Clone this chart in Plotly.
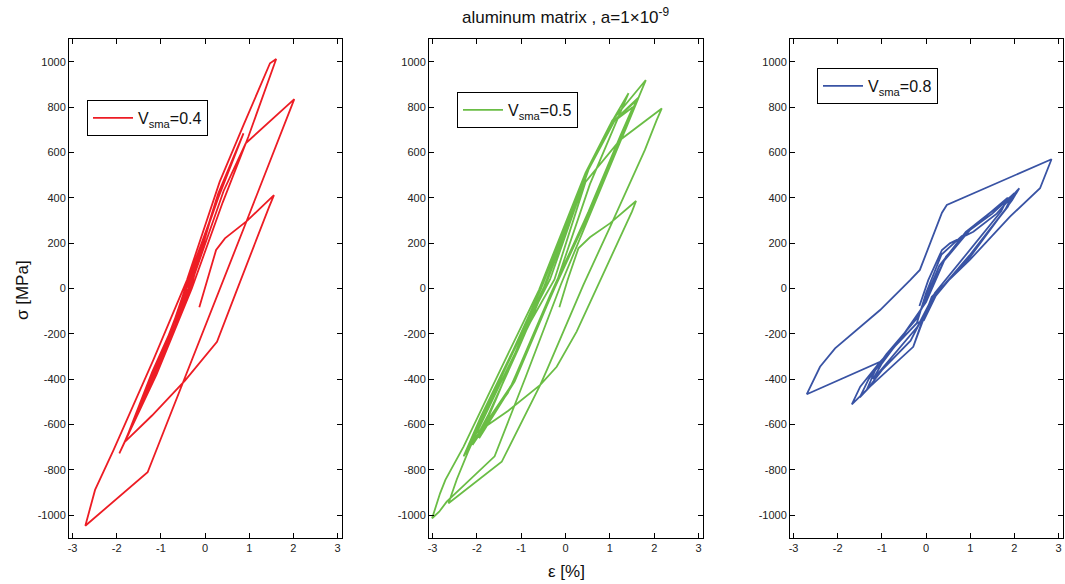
import plotly.graph_objects as go

# Stress-strain histories (strain in %, stress in MPa) for three SMA volume fractions

strain_04 = [
    -0.13, 0.05, 0.25, 0.45, 0.95, 1.56,
    1.45, 0.72, 0.27, -0.45, -1.20, -1.81,
    -1.20, -0.35, 0.42, 0.92, 2.02,
    0.95, -0.40, -1.30, -2.71,
    -2.49, -2.07, -1.77, -1.17, -0.41, 0.33, 0.87, 1.47, 1.61,
    0.98, 0.40, -0.30, -1.10, -1.94,
    -1.50, -0.90, -0.45, 0.35, 0.87,
    0.30, -0.38, -1.20, -1.85,
    -1.30, -0.46, 0.30, 0.80,
    0.25, -0.33, -1.10, -1.75,
]
stress_04 = [
    -83, 40, 170, 221, 298, 412,
    360, -7, -235, -405, -560, -675,
    -370, 0, 430, 640, 835,
    302, -370, -810, -1046,
    -888, -712, -580, -315, 37, 470, 720, 993, 1012,
    669, 380, 0, -380, -727,
    -540, -260, 0, 430, 684,
    420, 0, -390, -690,
    -450, -20, 400, 650,
    390, 0, -360, -650,
]

strain_05 = [
    -0.14, 0.05, 0.29, 0.55, 1.00, 1.59,
    1.50, 0.85, 0.25, -0.20, -0.57, -1.30, -2.00,
    -1.50, -0.80, -0.25, 0.45, 1.23, 2.17,
    2.05, 1.79, 1.00, 0.40, -0.42, -0.57, -1.44, -2.64,
    -2.45, -2.20, -1.40, -0.50, 0.50, 1.05, 1.81,
    1.60, 0.80, -0.10, -0.90, -1.60, -2.68, -2.85, -3.01,
    -2.83, -2.71, -2.30, -1.40, -0.60, 0.45, 1.00, 1.42,
    1.20, 0.55, -0.25, -1.20, -2.30,
    -1.90, -1.20, -0.55, 0.45, 1.05, 1.64,
    1.35, 0.60, -0.30, -1.30, -2.20,
    -1.70, -0.90, -0.40, 0.50, 1.10, 1.60,
    1.30, 0.50, -0.35, -1.25, -2.10,
    -1.75, -1.05, -0.48, 0.48, 1.08, 1.52,
    1.25, 0.52, -0.28, -1.15, -1.95,
    -1.55, -0.85, -0.35, 0.52, 1.12, 1.66,
]
stress_05 = [
    -83, 40, 177, 226, 287, 386,
    340, 67, -190, -345, -425, -540, -635,
    -430, -150, 40, 470, 655, 794,
    740, 611, 270, 15, -359, -425, -764, -947,
    -840, -720, -370, 0, 520, 740, 919,
    820, 440, 20, -390, -740, -940, -984, -1013,
    -903, -844, -697, -330, -7, 510, 720, 861,
    760, 460, 0, -420, -740,
    -560, -280, 0, 500, 730, 838,
    700, 360, -20, -460, -705,
    -490, -160, 40, 520, 740, 830,
    690, 330, -30, -440, -690,
    -560, -260, 0, 510, 735, 800,
    680, 340, -10, -410, -660,
    -480, -150, 40, 525, 745, 845,
]

strain_08 = [
    -0.15, 0.05, 0.36, 0.54, 1.07, 1.60, 2.11,
    1.95, 1.00, 0.15, -0.10, -0.29, -1.27, -1.68,
    -1.49, -1.04, -0.21, 0.00, 0.35, 0.80, 1.50, 2.00,
    1.85, 1.00, 0.25, -0.05, -0.21, -1.04, -2.70,
    -2.40, -2.06, -1.04, -0.36, -0.14, 0.36, 0.47, 2.84,
    2.58, 1.90, 0.99, 0.13, -0.29, -1.27, -1.50,
    -1.30, -0.90, -0.20, 0.30, 0.90, 1.95,
    1.80, 1.00, 0.10, -0.35, -1.00, -1.35,
    -1.15, -0.60, -0.10, 0.40, 1.00, 1.85,
    1.70, 0.95, 0.20, -0.20, -0.80, -1.20,
    -1.00, -0.50, 0.00, 0.45, 1.10, 1.75,
]
stress_08 = [
    -77, 37, 170, 199, 250, 330, 442,
    390, 140, -40, -150, -257, -433, -511,
    -433, -323, -153, -20, 150, 230, 330, 420,
    360, 150, -20, -140, -153, -323, -466,
    -345, -264, -95, 37, 82, 334, 368, 570,
    442, 317, 126, -36, -257, -433, -480,
    -400, -290, -130, 100, 250, 410,
    350, 150, -60, -230, -360, -450,
    -360, -230, -90, 120, 260, 400,
    340, 160, -20, -170, -310, -400,
    -330, -200, -60, 140, 280, 380,
]

x_ticks = [-3, -2, -1, 0, 1, 2, 3]
y_ticks = [-1000, -800, -600, -400, -200, 0, 200, 400, 600, 800, 1000]
x_ticktext = [str(v) for v in x_ticks]
y_ticktext = [str(v) for v in y_ticks]

series = [
    (strain_04, stress_04, "V<sub>sma</sub>=0.4", "#ED1C24"),
    (strain_05, stress_05, "V<sub>sma</sub>=0.5", "#6ABD45"),
    (strain_08, stress_08, "V<sub>sma</sub>=0.8", "#3953A4"),
]

W, H = 1065, 584
boxes = [(69, 342), (429, 703), (790, 1063)]
box_top, box_bottom = 39, 538
legend_corner = [(87, 100), (457, 92), (817, 68)]

FONT = "Liberation Sans, Arial, Helvetica, sans-serif"

fig = go.Figure()
axis_style = dict(
    showline=True, linecolor="black", linewidth=1, mirror="ticks",
    ticks="inside", ticklen=5, tickcolor="black", tickwidth=1,
    showgrid=False, zeroline=False,
    tickfont=dict(family=FONT, size=11, color="#222222"),
)

for i, (sx, sy, name, color) in enumerate(series):
    k = "" if i == 0 else str(i + 1)
    fig.add_trace(go.Scatter(
        x=sx, y=sy, mode="lines", name=name,
        line=dict(color=color, width=1.8),
        xaxis="x" + k, yaxis="y" + k, legend="legend" + k,
        showlegend=True, hoverinfo="skip",
    ))
    left, right = boxes[i]
    lx, ly = legend_corner[i]
    fig.update_layout(**{
        "xaxis" + k: dict(domain=[left / W, right / W], range=[-3.08, 3.1],
                          anchor="y" + k, tickvals=x_ticks, ticktext=x_ticktext,
                          **axis_style),
        "yaxis" + k: dict(domain=[1 - box_bottom / H, 1 - box_top / H],
                          range=[-1100, 1100], anchor="x" + k,
                          tickvals=y_ticks, ticktext=y_ticktext, **axis_style),
        "legend" + k: dict(x=lx / W, y=1 - ly / H, xanchor="left", yanchor="top",
                           xref="paper", yref="paper", itemwidth=40,
                           bordercolor="black", borderwidth=1, bgcolor="white",
                           font=dict(family=FONT, size=16, color="#111111")),
    })

fig.update_layout(
    width=W, height=H, autosize=False,
    margin=dict(l=0, r=0, t=0, b=0),
    paper_bgcolor="white", plot_bgcolor="white",
    annotations=[
        dict(text="aluminum matrix , a=1\u00d710<sup>-9</sup>", x=566 / W, y=1 - 16 / H,
             xref="paper", yref="paper", showarrow=False,
             xanchor="center", yanchor="middle",
             font=dict(family=FONT, size=17, color="#111111")),
        dict(text="\u03b5 [%]", x=566 / W, y=1 - 571 / H,
             xref="paper", yref="paper", showarrow=False,
             xanchor="center", yanchor="middle",
             font=dict(family=FONT, size=17, color="#111111")),
        dict(text="\u03c3 [MPa]", x=22 / W, y=1 - 290 / H, textangle=-90,
             xref="paper", yref="paper", showarrow=False,
             xanchor="center", yanchor="middle",
             font=dict(family=FONT, size=17, color="#111111")),
    ],
)

fig.write_html("out.html")
